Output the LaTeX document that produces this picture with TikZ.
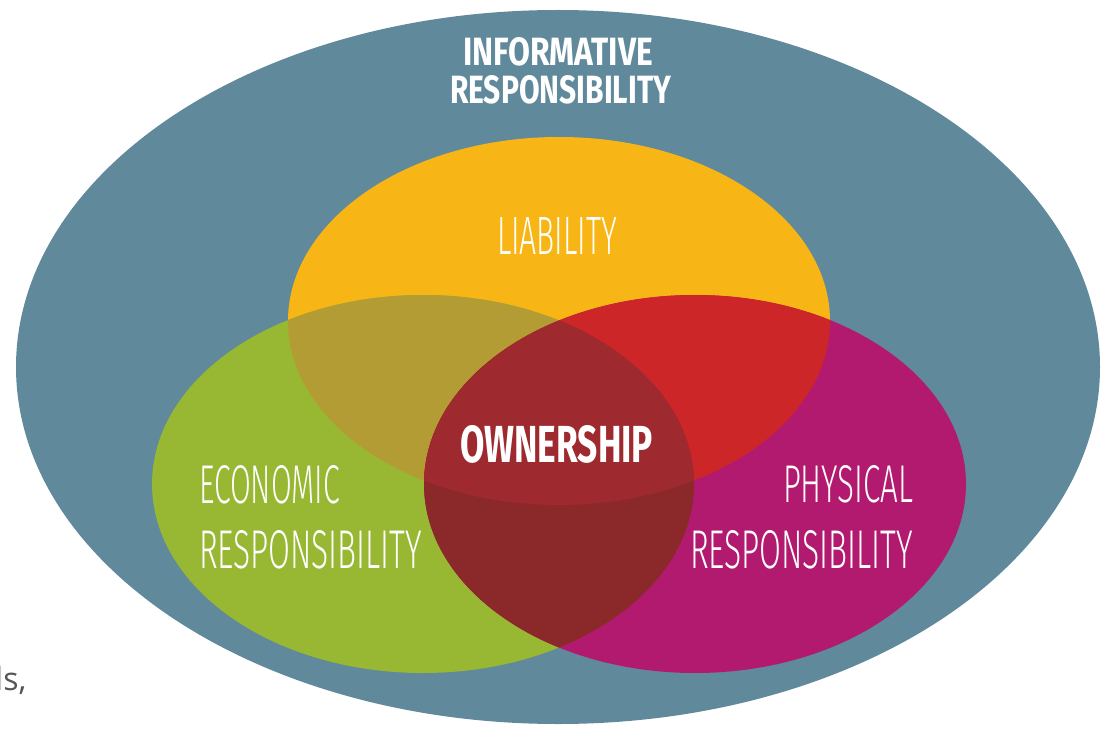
\documentclass[tikz,border=0pt]{standalone}
\usepackage{fontspec}
\usepackage{graphicx}
\newfontfamily\headfont{Fira Sans}
\newfontfamily\thinfont{Fira Sans Light}
\newfontfamily\notefont{Open Sans}

% colours of the rings and their overlaps
\definecolor{slate}{RGB}{96,138,155}
\definecolor{ringY}{RGB}{247,182,22}
\definecolor{ringG}{RGB}{152,183,50}
\definecolor{ringM}{RGB}{178,26,112}
\definecolor{mixYG}{RGB}{180,156,52}
\definecolor{mixYM}{RGB}{205,38,40}
\definecolor{mixGM}{RGB}{138,40,42}
\definecolor{mixAll}{RGB}{158,42,48}
\definecolor{notegray}{RGB}{85,85,85}

% text scaled to a given width and cap height (pt)
\newcommand\fitlabel[3]{\resizebox{#1pt}{#2pt}{#3}}

\tikzset{
  word/.style={inner sep=0pt, outer sep=0pt, anchor=north west, text=white},
}

\begin{document}
\begin{tikzpicture}[x=1pt,y=-1pt]
  \useasboundingbox (0,0) rectangle (1108,730);

  % outer field
  \fill[slate] (558,367) ellipse [x radius=542pt, y radius=357pt];

  % the three rings
  \def\ringY{(559,321) ellipse [x radius=271pt, y radius=184pt]}
  \def\ringG{(423,484) ellipse [x radius=271pt, y radius=189pt]}
  \def\ringM{(695,484) ellipse [x radius=271pt, y radius=189pt]}

  \fill[ringY] \ringY;
  \fill[ringG] \ringG;
  \fill[ringM] \ringM;

  % pairwise overlaps
  \begin{scope}
    \clip \ringY;
    \fill[mixYG] \ringG;
    \fill[mixYM] \ringM;
  \end{scope}
  \begin{scope}
    \clip \ringG;
    \fill[mixGM] \ringM;
  \end{scope}
  % common core
  \begin{scope}
    \clip \ringY;
    \clip \ringG;
    \fill[mixAll] \ringM;
  \end{scope}

  % labels
  \node[word] (info1) at (463,38) {\fitlabel{190}{28}{\headfont\bfseries INFORMATIVE}};
  \node[word] (info2) at (450,76) {\fitlabel{221}{28}{\headfont\bfseries RESPONSIBILITY}};
  \node[word] (liab)  at (497,217) {\fitlabel{120}{37}{\thinfont LIABILITY}};
  \node[word] (own)   at (460,425) {\fitlabel{193}{37}{\headfont\bfseries OWNERSHIP}};
  \node[word] (eco1)  at (199,465) {\fitlabel{141}{38}{\thinfont ECONOMIC}};
  \node[word] (eco2)  at (199,530) {\fitlabel{223}{38}{\thinfont RESPONSIBILITY}};
  \node[word] (phy1)  at (783,465) {\fitlabel{130}{37}{\thinfont PHYSICAL}};
  \node[word] (phy2)  at (690,530) {\fitlabel{223}{38}{\thinfont RESPONSIBILITY}};

  % stray page text at the left margin
  \node[inner sep=0pt, anchor=base west, text=notegray, font=\notefont\fontsize{32}{36}\selectfont]
    (note) at (-5,690) {ls,};
\end{tikzpicture}
\end{document}
